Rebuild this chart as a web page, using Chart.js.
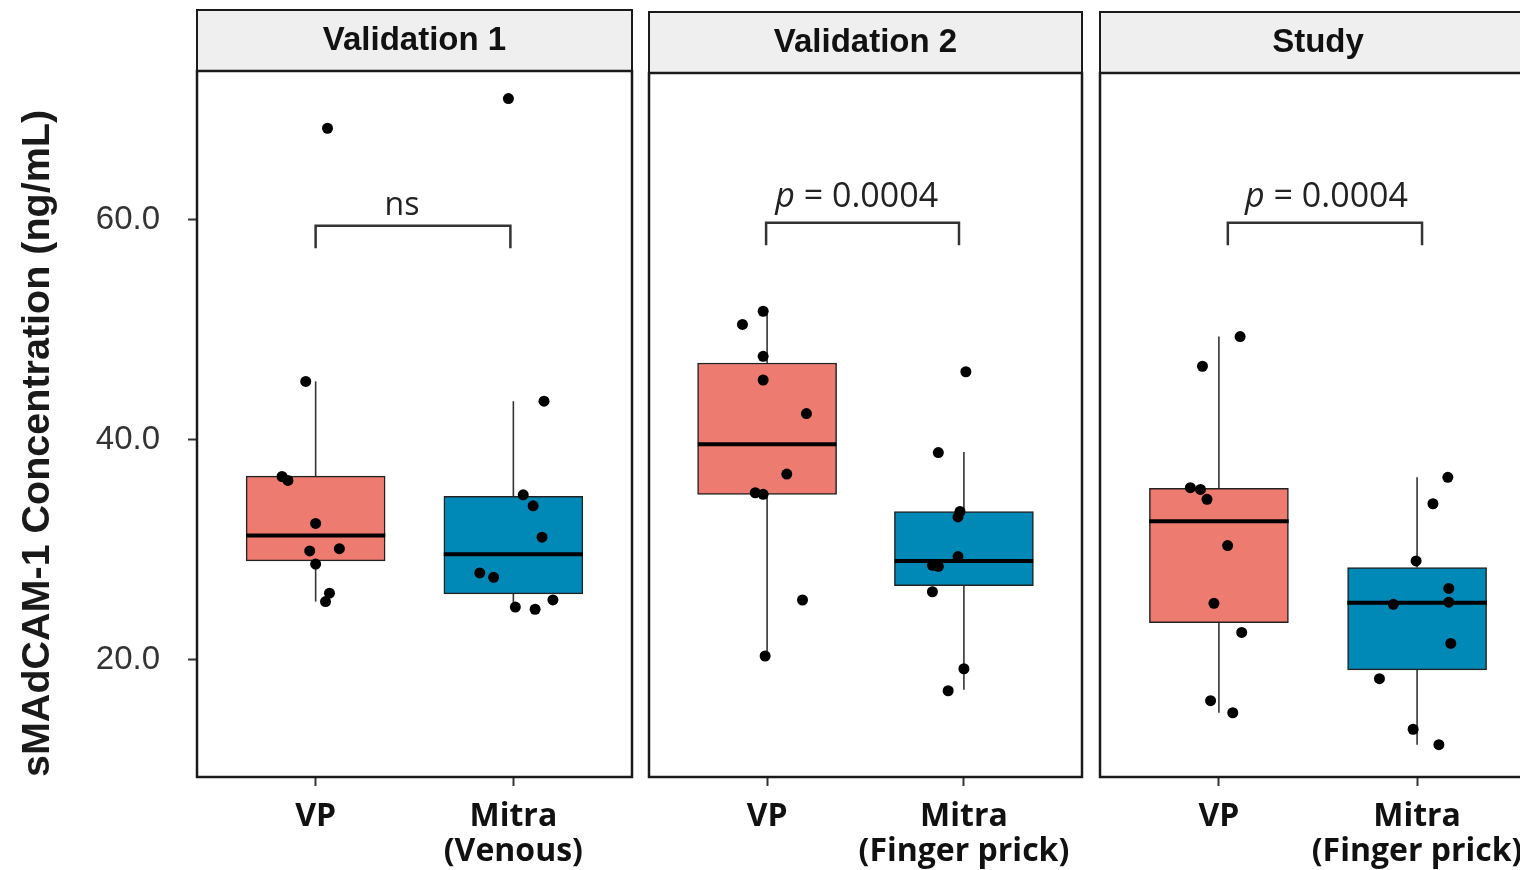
<!DOCTYPE html>
<html><head><meta charset="utf-8">
<script src="https://cdn.jsdelivr.net/npm/chart.js@4.4.1/dist/chart.umd.min.js"></script>
<style>
html,body{margin:0;padding:0;background:#fff;width:1520px;height:870px;overflow:hidden;position:relative}
canvas{position:absolute;top:0}
</style></head><body>
<canvas id="c1" width="640" height="870" style="left:0px"></canvas>
<canvas id="c2" width="450" height="870" style="left:640px"></canvas>
<canvas id="c3" width="460" height="870" style="left:1091px"></canvas>
<script>
// ---------- data ----------
const panelTitles = ['Validation 1', 'Validation 2', 'Study'];
const xTickLabels1 = ['VP', ['Mitra', '(Venous)']];
const xTickLabels2 = ['VP', ['Mitra', '(Finger prick)']];
const xTickLabels3 = ['VP', ['Mitra', '(Finger prick)']];
const yTickValues = [20, 40, 60];
const yTickLabels = ['20.0', '40.0', '60.0'];
const yAxisTitle = 'sMAdCAM-1 Concentration (ng/mL)';
const groupColors = ['#EE7B70', '#0089B7'];

// box stats: [lower whisker, q1, median, q3, upper whisker]
const v1VPBox    = [25.3, 29.0, 31.3, 36.7, 45.3];
const v1MitraBox = [24.6, 26.0, 29.6, 34.85, 43.5];
const v2VPBox    = [20.36, 35.06, 39.6, 47.0, 51.75];
const v2MitraBox = [17.3, 26.75, 29.0, 33.5, 38.9];
const stVPBox    = [15.2, 23.4, 32.6, 35.6, 49.4];
const stMitraBox = [12.3, 19.1, 25.2, 28.4, 36.6];

// individual points (value, jittered x position)
const v1VPValues    = [68.3, 45.3, 36.66, 36.3, 32.4, 29.9, 30.1, 28.7, 26.06, 25.3];
const v1VPJitter    = [1.06, 0.95, 0.83, 0.86, 1.0, 0.97, 1.12, 1.0, 1.07, 1.05];
const v1MitraValues = [71.0, 43.5, 35.0, 34.0, 31.15, 27.9, 27.5, 24.8, 24.6, 25.45];
const v1MitraJitter = [1.975, 2.155, 2.05, 2.10, 2.145, 1.83, 1.90, 2.01, 2.11, 2.2];
const v2VPValues    = [51.7, 50.5, 47.6, 45.45, 42.4, 36.9, 35.2, 35.06, 25.45, 20.36];
const v2VPJitter    = [0.98, 0.875, 0.98, 0.98, 1.2, 1.1, 0.94, 0.98, 1.18, 0.99];
const v2MitraValues = [46.2, 38.85, 33.5, 33.0, 29.4, 28.6, 28.5, 26.2, 19.2, 17.2];
const v2MitraJitter = [2.01, 1.87, 1.98, 1.97, 1.97, 1.84, 1.87, 1.84, 2.0, 1.92];
const stVPValues    = [49.4, 46.7, 35.66, 35.5, 34.6, 30.4, 25.15, 22.5, 16.3, 15.2];
const stVPJitter    = [1.107, 0.917, 0.856, 0.907, 0.94, 1.044, 0.975, 1.115, 0.958, 1.07];
const stMitraValues = [36.6, 34.2, 29.0, 26.5, 25.25, 25.06, 21.5, 18.3, 13.7, 12.3];
const stMitraJitter = [2.155, 2.08, 1.995, 2.16, 2.16, 1.88, 2.17, 1.81, 1.98, 2.11];

// significance brackets and labels
const bracketX = [[1.0, 1.985], [0.995, 1.975], [1.045, 2.025]];
const bracketY = [[57.4, 59.45], [57.7, 59.75], [57.7, 59.75]];
const annotTexts = ['ns', 'p = 0.0004', 'p = 0.0004'];
const annotX = [1.437, 1.455, 1.543];
const annotY = [60.45, 61.2, 61.2];

// ---------- drawing ----------
const STRIP_H = 61;
const framePlugin = {
  id: 'frame',
  beforeDraw(chart) {
    const {ctx, chartArea: a} = chart;
    ctx.save();
    ctx.fillStyle = '#EFEFEF';
    ctx.fillRect(a.left, a.top - STRIP_H, a.right - a.left, STRIP_H);
    ctx.lineWidth = 2;
    ctx.strokeStyle = '#1a1a1a';
    ctx.strokeRect(a.left, a.top - STRIP_H, a.right - a.left, STRIP_H);
    ctx.restore();
  },
  afterDraw(chart) {
    const {ctx, chartArea: a} = chart;
    ctx.save();
    ctx.lineWidth = 2.5;
    ctx.strokeStyle = '#1a1a1a';
    ctx.strokeRect(a.left, a.top, a.right - a.left, a.bottom - a.top);
    ctx.restore();
  }
};

const annotPlugin = {
  id: 'annot',
  afterDatasetsDraw(chart, args, opts) {
    const {ctx, scales} = chart;
    const i = opts.index;
    const text = annotTexts[i];
    const x = scales.x.getPixelForValue(annotX[i]);
    const y = scales.y.getPixelForValue(annotY[i]);
    ctx.save();
    ctx.fillStyle = '#222';
    ctx.textBaseline = 'alphabetic';
    const normalFont = '32px "Open Sans"';
    const bigFont = '34px "Open Sans"';
    const italicFont = 'italic 34px "Open Sans"';
    if (text.startsWith('p ')) {
      ctx.font = italicFont;
      const w1 = ctx.measureText('p').width;
      ctx.font = bigFont;
      const rest = text.slice(1);
      const w2 = ctx.measureText(rest).width;
      const start = x - (w1 + w2) / 2;
      ctx.textAlign = 'left';
      ctx.font = italicFont;
      ctx.fillText('p', start, y);
      ctx.font = bigFont;
      ctx.fillText(rest, start + w1, y);
    } else {
      ctx.font = normalFont;
      ctx.textAlign = 'center';
      ctx.fillText(text, x, y);
    }
    ctx.restore();
  }
};

function groupDatasets(center, box, values, jitter) {
  const [lo, q1, med, q3, hi] = box;
  return {
    points: values.map((v, k) => ({x: jitter[k], y: v})),
    median: [{x: center - 0.352, y: med}, {x: center + 0.352, y: med}],
    upper: [{x: center, y: q3}, {x: center, y: hi}],
    lower: [{x: center, y: lo}, {x: center, y: q1}],
    bar: {x: center, y: [q1, q3]}
  };
}

function makePanel(id, idx, boxes, valuesArr, jitterArr, labels, layout, yMax, showY) {
  const g = [groupDatasets(1, boxes[0], valuesArr[0], jitterArr[0]),
             groupDatasets(2, boxes[1], valuesArr[1], jitterArr[1])];
  const lineBase = {type: 'line', pointRadius: 0, fill: false, tension: 0};
  const datasets = [
    {type: 'scatter', data: g[0].points.concat(g[1].points), backgroundColor: '#000', borderColor: '#000',
     pointRadius: 5.5, pointBorderWidth: 0, order: 0},
    {...lineBase, data: g[0].median, borderColor: '#000', borderWidth: 4, order: 1},
    {...lineBase, data: g[1].median, borderColor: '#000', borderWidth: 4, order: 1},
    {type: 'bar', data: [g[0].bar, g[1].bar], backgroundColor: groupColors, borderColor: '#222',
     borderWidth: 1.5, borderSkipped: false, barThickness: 139, grouped: true, order: 2},
    {...lineBase, data: g[0].upper, borderColor: '#333', borderWidth: 1.6, order: 3},
    {...lineBase, data: g[0].lower, borderColor: '#333', borderWidth: 1.6, order: 3},
    {...lineBase, data: g[1].upper, borderColor: '#333', borderWidth: 1.6, order: 3},
    {...lineBase, data: g[1].lower, borderColor: '#333', borderWidth: 1.6, order: 3},
    {...lineBase, data: [
      {x: bracketX[idx][0], y: bracketY[idx][0]}, {x: bracketX[idx][0], y: bracketY[idx][1]},
      {x: bracketX[idx][1], y: bracketY[idx][1]}, {x: bracketX[idx][1], y: bracketY[idx][0]}],
     borderColor: '#333', borderWidth: 2.5, order: 4}
  ];
  const yScale = {
    type: 'linear', min: 9.36, max: yMax, display: showY,
    grid: {drawOnChartArea: false, drawTicks: true, tickLength: 9, tickColor: '#333', tickWidth: 2},
    border: {display: false},
    afterBuildTicks: s => { s.ticks = yTickValues.map(v => ({value: v})); },
    ticks: {padding: 28, color: '#333', font: {family: '"Liberation Sans", Arial', size: 33},
            callback: (v, i) => yTickLabels[i]},
    title: {display: true, text: yAxisTitle, align: 'start', color: '#1a1a1a',
            font: {family: '"Liberation Sans", Arial', size: 39.5, weight: 'bold', lineHeight: 1},
            padding: {top: 18, bottom: 0}},
    afterFit: s => { if (showY) s.width = 197; else s.width = 0; }
  };
  return new Chart(document.getElementById(id), {
    type: 'scatter',
    data: {datasets},
    options: {
      responsive: false, animation: false, devicePixelRatio: 1,
      layout: {padding: layout},
      plugins: {
        legend: {display: false}, tooltip: {enabled: false},
        title: {display: true, text: panelTitles[idx], fullSize: false, color: '#111',
                font: {family: '"Liberation Sans", Arial', size: 33, weight: 'bold', lineHeight: 1},
                padding: {top: 14, bottom: 14}},
        annot: {index: idx}
      },
      scales: {
        x: {type: 'linear', min: 0.4, max: 2.6, offset: false,
            grid: {display: true, offset: false, drawOnChartArea: false, drawTicks: true, tickLength: 9, tickColor: '#333', tickWidth: 2},
            border: {display: false},
            afterBuildTicks: s => { s.ticks = [{value: 1}, {value: 2}]; },
            ticks: {autoSkip: false, maxRotation: 0, minRotation: 0, padding: 13, color: '#111',
                    font: {family: '"Open Sans"', size: 32, weight: 'bold', lineHeight: 1.1},
                    callback: (v, i) => labels[i]},
            afterFit: s => { s.height = 93; s.paddingLeft = 0; s.paddingRight = 0; }},
        y: yScale
      }
    },
    plugins: [framePlugin, annotPlugin]
  });
}

makePanel('c1', 0, [v1VPBox, v1MitraBox], [v1VPValues, v1MitraValues], [v1VPJitter, v1MitraJitter],
  xTickLabels1, {left: 0, right: 8, top: 10, bottom: 0}, 73.5, true);
makePanel('c2', 1, [v2VPBox, v2MitraBox], [v2VPValues, v2MitraValues], [v2VPJitter, v2MitraJitter],
  xTickLabels2, {left: 9, right: 8, top: 12, bottom: 0}, 73.36, false);
makePanel('c3', 2, [stVPBox, stMitraBox], [stVPValues, stMitraValues], [stVPJitter, stMitraJitter],
  xTickLabels3, {left: 9, right: 15, top: 12, bottom: 0}, 73.36, false);
</script>
</body></html>
